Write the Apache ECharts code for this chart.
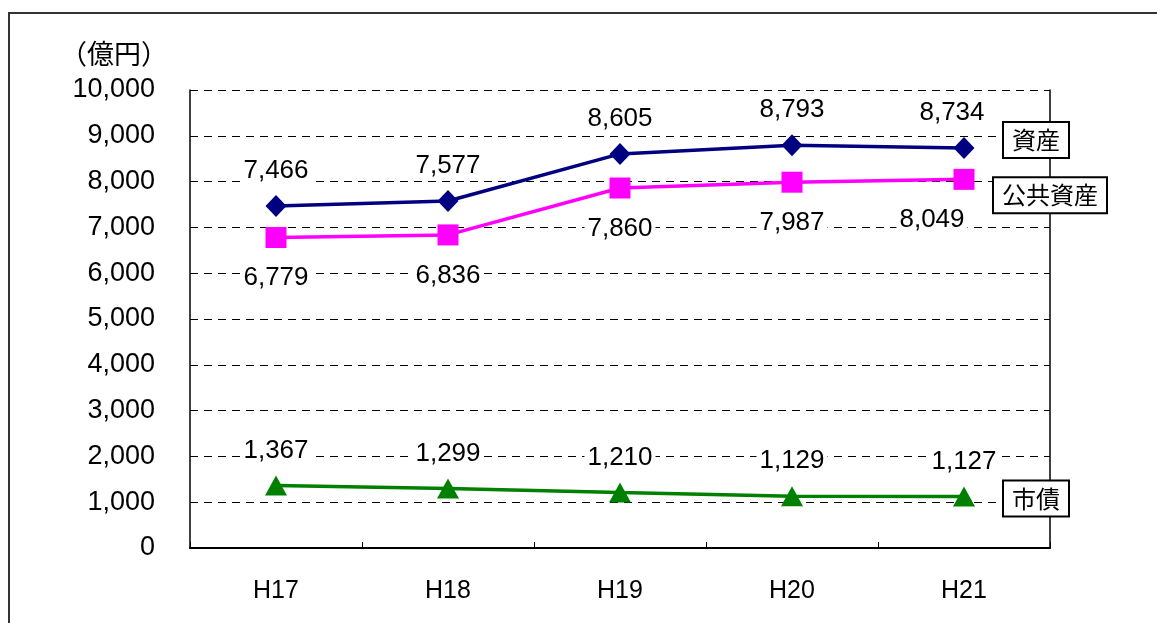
<!DOCTYPE html>
<html>
<head>
<meta charset="utf-8">
<script src="https://cdn.jsdelivr.net/npm/echarts@6/dist/echarts.min.js"></script>
<style>
  html, body { margin: 0; padding: 0; background: #fff; }
  #chart { width: 1157px; height: 623px; }
</style>
</head>
<body>
<div id="chart"></div>
<script>
// categories (fiscal years) and values in 億円
const years = ["H17", "H18", "H19", "H20", "H21"];
const assets = [7466, 7577, 8605, 8793, 8734];        // 資産
const publicAssets = [6779, 6836, 7860, 7987, 8049];  // 公共資産
const bonds = [1367, 1299, 1210, 1129, 1127];         // 市債

const numFont = "'Liberation Sans', Arial, sans-serif";
const jpFont = "'Noto Sans CJK JP', sans-serif";

const chart = echarts.init(document.getElementById("chart"));

// data label common style (white box hides grid lines behind it)
function dataLabel(pos, dist) {
  return {
    show: true,
    position: pos,
    distance: dist,
    color: "#000",
    fontSize: 26,
    fontFamily: numFont,
    backgroundColor: "#fff",
    padding: [0, 3],
    formatter: (p) => p.value.toLocaleString("en-US"),
  };
}

// boxed series name at the end of each line
function nameBox(dx, dy) {
  return {
    show: true,
    formatter: "{a}",
    color: "#000",
    fontSize: 24,
    fontFamily: jpFont,
    backgroundColor: "#fff",
    borderColor: "#000",
    borderWidth: 2,
    padding: [6, 8, 4, 8],
    distance: 0,
    offset: [dx, dy],
  };
}

// last labels are pushed a little to the left in the original
function shiftLast(dx) {
  return (p) => (p.dataIndex === years.length - 1 ? { dx: dx } : {});
}

const option = {
  animation: false,
  backgroundColor: "#fff",
  graphic: [
    {
      type: "rect",
      shape: { x: 9, y: 13, width: 1170, height: 640 },
      style: { fill: "none", stroke: "#333", lineWidth: 2 },
      z: -1,
    },
    {
      type: "text",
      x: 60,
      y: 40,
      style: { text: "（億円）", fontSize: 27, fontFamily: jpFont, fill: "#000" },
    },
  ],
  grid: { left: 190, right: 107, top: 90, bottom: 75 },
  xAxis: {
    type: "category",
    data: years,
    boundaryGap: true,
    axisLine: { lineStyle: { color: "#000", width: 2 } },
    axisTick: { show: true, inside: true, length: 6, lineStyle: { color: "#000" } },
    axisLabel: { color: "#000", fontSize: 25, fontFamily: numFont, margin: 31 },
  },
  yAxis: [
    {
      type: "value",
      min: 0,
      max: 10000,
      interval: 1000,
      axisLine: { show: true, lineStyle: { color: "#000", width: 1.5 } },
      axisTick: { show: false },
      axisLabel: {
        color: "#000",
        fontSize: 27,
        fontFamily: numFont,
        margin: 35,
        formatter: (v) => v.toLocaleString("en-US"),
      },
      splitLine: { show: true, lineStyle: { color: "#000", type: [8, 6], width: 1 } },
    },
    {
      type: "value",
      min: 0,
      max: 10000,
      interval: 1000,
      position: "right",
      axisLine: { show: true, lineStyle: { color: "#000", width: 1.5 } },
      axisTick: { show: false },
      axisLabel: { show: false },
      splitLine: { show: false },
    },
  ],
  series: [
    {
      name: "公共資産",
      type: "line",
      data: publicAssets,
      color: "#ff00ff",
      lineStyle: { width: 3.5 },
      symbol: "rect",
      symbolSize: 21,
      label: dataLabel("bottom", 17),
      labelLayout: shiftLast(-32),
      endLabel: nameBox(30, 16),
      z: 3,
    },
    {
      name: "資産",
      type: "line",
      data: assets,
      color: "#000080",
      lineStyle: { width: 3.5 },
      symbol: "diamond",
      symbolSize: [21, 22],
      label: dataLabel("top", 11),
      labelLayout: shiftLast(-12),
      endLabel: nameBox(40, -8),
      z: 4,
    },
    {
      name: "市債",
      type: "line",
      data: bonds,
      color: "#008000",
      lineStyle: { width: 3.5 },
      symbol: "triangle",
      symbolSize: [22, 20],
      label: dataLabel("top", 12),
      endLabel: nameBox(40, 2),
      z: 3,
    },
  ],
};

chart.setOption(option);
</script>
</body>
</html>
